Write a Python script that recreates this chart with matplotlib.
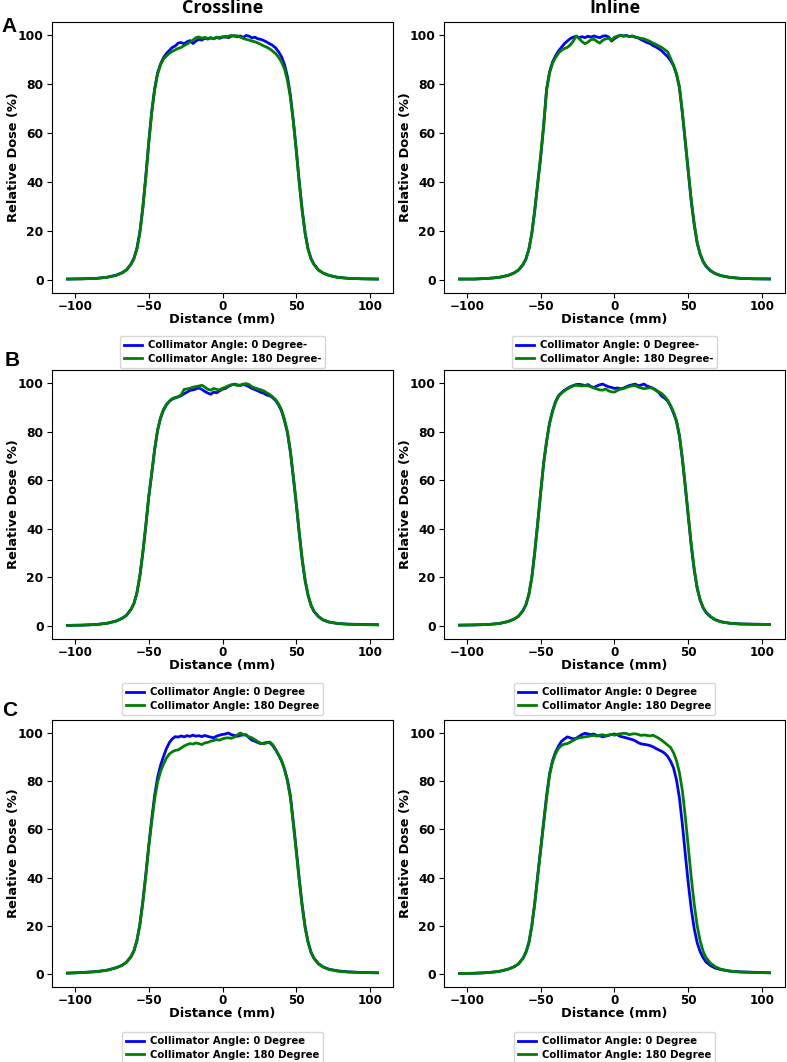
from matplotlib import pyplot as plt

# sample positions (mm), shared by all profiles
dist = [-105, -95, -85, -78, -72, -68, -65, -62, -60, -58, -56, -54, -52, -50, -48, -46, -44, -42, -40,
        -38, -36, -34, -32, -30, -28, -26, -24, -22, -20, -18, -16, -14, -12, -10, -8, -6, -4, -2,
        0, 2, 4, 6, 8, 10, 12, 14, 16, 18, 20, 22, 24, 26, 28, 30, 32, 34, 36, 38,
        40, 42, 44, 46, 48, 50, 52, 54, 56, 58, 60, 62, 65, 68, 72, 78, 85, 95, 105]

# Row A - crossline
a_cross_0 = [0.3, 0.4, 0.6, 1.1, 1.9, 2.9, 4.1, 6.4, 8.8, 12.8, 19.5, 29.5, 42, 56, 68.5, 78, 84.5, 88.2, 90.8,
             92.5, 93.8, 95.0, 95.6, 96.8, 97.0, 96.5, 97.3, 97.8, 96.6, 97.6, 98.3, 98.0, 98.8, 98.4, 98.9, 98.5, 99.1, 98.7,
             99.2, 99.5, 99.0, 99.6, 99.8, 99.3, 99.7, 99.1, 99.9, 99.6, 98.9, 99.2, 98.5, 98.3, 97.8, 97.2, 96.5, 95.8, 94.8, 93.2,
             91.2, 88.0, 83.0, 75.5, 65, 53, 40, 28.5, 19, 12.5, 8.6, 6.3, 4.0, 2.8, 1.8, 1.0, 0.6, 0.4, 0.3]
a_cross_180 = [0.3, 0.4, 0.6, 1.0, 1.8, 2.8, 4.0, 6.3, 8.6, 12.5, 19, 29, 41.5, 55.5, 68, 77.5, 84, 87.8, 90.2,
               91.5, 92.6, 93.4, 94.0, 94.6, 95.0, 95.8, 96.4, 97.2, 98.0, 99.0, 99.3, 98.8, 99.1, 98.7, 99.0, 98.6, 99.2, 99.0,
               99.4, 99.1, 99.6, 99.9, 99.6, 99.8, 99.2, 98.7, 98.3, 98.0, 97.6, 97.3, 96.8, 96.2, 95.6, 95.1, 94.4, 93.5, 92.5, 91.0,
               89.0, 86.2, 81.5, 74.5, 64.5, 52.5, 39.5, 28, 18.8, 12.3, 8.5, 6.2, 4.0, 2.8, 1.8, 1.0, 0.6, 0.4, 0.3]
# Row A - inline
a_in_0 = [0.3, 0.3, 0.6, 1.0, 1.8, 2.8, 4.0, 6.2, 8.5, 12.5, 19, 28.5, 39.5, 50, 63, 78, 85, 89, 91.5,
          93.5, 95.0, 96.5, 97.6, 98.6, 99.2, 99.5, 99.0, 99.4, 99.0, 99.6, 99.2, 99.7, 99.3, 99.0, 99.6, 99.8, 99.3, 97.6,
          98.6, 99.4, 100.0, 99.7, 99.9, 99.5, 99.6, 99.2, 98.9, 98.2, 97.6, 97.0, 96.6, 95.8, 95.2, 94.5, 93.6, 92.4, 91.2, 89.6,
          87.5, 84, 78.5, 68, 56, 44, 32, 22.5, 15, 10.5, 7.5, 5.5, 3.7, 2.6, 1.7, 1.0, 0.6, 0.4, 0.3]
a_in_180 = [0.3, 0.3, 0.6, 1.0, 1.8, 2.8, 4.0, 6.2, 8.5, 12.5, 19, 28.5, 39.5, 51, 63, 77.5, 84.5, 88.5, 90.8,
            92.6, 93.8, 94.5, 95.0, 96.0, 97.5, 99.7, 98.6, 97.4, 96.5, 97.2, 98.1, 98.4, 97.5, 96.8, 97.9, 98.5, 98.8, 98.0,
            99.2, 99.6, 100.0, 99.5, 99.8, 99.4, 99.7, 99.3, 99.0, 98.7, 98.5, 98.0, 97.5, 96.8, 96.3, 95.6, 95.0, 94.1, 93.2, 90.5,
            87.8, 84.3, 78.8, 68.5, 56.5, 44.5, 32.5, 23, 15.3, 10.6, 7.6, 5.6, 3.8, 2.6, 1.7, 1.0, 0.6, 0.4, 0.4]

# Row B - crossline
b_cross_0 = [0.2, 0.3, 0.6, 1.1, 2.0, 3.1, 4.4, 6.8, 9.2, 13.5, 20.5, 30, 41, 53, 62.5, 72.5, 80.5, 85.5, 88.8,
             91.0, 92.5, 93.4, 93.9, 94.3, 94.8, 95.6, 96.3, 97.0, 97.2, 97.6, 98.0, 97.4, 96.6, 95.9, 95.4, 96.3, 96.0, 96.8,
             97.5, 97.8, 98.6, 99.2, 99.6, 99.3, 99.0, 99.4, 99.1, 98.5, 97.8, 97.3, 96.8, 96.2, 95.8, 95.1, 94.8, 94.0, 92.8, 91.0,
             88.5, 84.5, 79.5, 71.5, 61, 50, 38, 27, 18.5, 12.5, 8.4, 5.9, 3.8, 2.5, 1.6, 1.0, 0.7, 0.6, 0.5]
b_cross_180 = [0.2, 0.3, 0.6, 1.1, 2.0, 3.1, 4.4, 6.8, 9.2, 13.5, 20.5, 30, 41, 53, 62.5, 72.5, 80.5, 85.8, 89.2,
               91.2, 92.6, 93.6, 94.1, 94.4, 95.2, 97.4, 97.6, 97.9, 98.3, 98.6, 98.8, 99.1, 98.4, 97.5, 97.1, 97.8, 97.4, 97.2,
               97.9, 98.3, 98.9, 99.3, 99.5, 99.0, 99.2, 99.6, 99.8, 99.4, 98.5, 98.0, 97.6, 97.2, 96.8, 96.0, 95.3, 94.3, 93.2, 91.4,
               89, 85, 80, 72, 61.5, 50.5, 38.5, 27.5, 18.8, 12.6, 8.5, 6.0, 3.9, 2.5, 1.6, 1.0, 0.7, 0.5, 0.4]
# Row B - inline
b_in_0 = [0.3, 0.4, 0.6, 1.0, 1.8, 2.8, 4.0, 6.3, 8.7, 13, 20, 30.5, 42.5, 55, 67, 76, 83.5, 88.5, 92.3,
          94.8, 96.0, 97.0, 97.8, 98.5, 99.0, 99.4, 99.5, 99.3, 99.0, 99.4, 98.6, 98.2, 98.8, 99.3, 99.6, 99.0, 98.5, 98.2,
          97.8, 98.0, 97.7, 97.9, 98.5, 99.0, 99.3, 99.6, 98.9, 99.2, 99.6, 98.8, 98.4, 97.9, 97.2, 96.1, 94.6, 93.8, 92.6, 90.5,
          87.6, 84.2, 78, 68.5, 57, 45, 33, 23, 15.5, 10.6, 7.5, 5.6, 3.8, 2.6, 1.7, 1.1, 0.8, 0.7, 0.6]
b_in_180 = [0.3, 0.4, 0.6, 1.0, 1.8, 2.8, 4.0, 6.3, 8.7, 13, 20, 30.5, 42.5, 55, 67, 76, 83.5, 88.3, 92.0,
            94.5, 95.8, 96.8, 97.6, 98.3, 98.8, 99.1, 99.0, 98.8, 99.0, 98.9, 98.5, 98.0, 97.6, 97.2, 97.1, 97.6, 96.8, 96.4,
            96.3, 97.0, 97.5, 97.7, 98.2, 98.6, 98.9, 99.0, 98.4, 98.0, 97.7, 97.9, 98.1, 97.8, 97.0, 96.4, 95.7, 94.5, 93.0, 90.8,
            88, 84.5, 78.5, 69, 57.5, 45.5, 33.5, 23.5, 15.8, 10.8, 7.6, 5.6, 3.8, 2.6, 1.7, 1.1, 0.8, 0.6, 0.6]

# Row C - crossline
c_cross_0 = [0.4, 0.6, 1.0, 1.6, 2.6, 3.6, 4.9, 7.2, 9.6, 13.8, 20.5, 30, 41, 53, 64, 74, 81.5, 86.5, 90.2,
             93.5, 96.0, 97.6, 98.5, 98.3, 98.8, 98.4, 98.9, 98.6, 99.1, 98.7, 98.9, 98.5, 99.0, 98.6, 98.3, 98.0, 98.7, 99.1,
             99.4, 99.6, 100.0, 99.3, 99.0, 98.6, 99.0, 99.2, 99.3, 98.0, 97.0, 96.6, 96.0, 95.6, 95.8, 96.1, 96.0, 94.8, 93.0, 90.8,
             88.5, 85, 80.5, 74, 63, 51.5, 39.5, 28.5, 19.5, 13.2, 9.0, 6.5, 4.3, 3.0, 2.0, 1.3, 0.9, 0.6, 0.5]
c_cross_180 = [0.3, 0.6, 1.0, 1.6, 2.6, 3.6, 4.9, 7.2, 9.6, 13.8, 20.3, 29.5, 40.5, 52.5, 63, 72.5, 79.5, 84, 87.0,
               89.6, 91.3, 92.2, 92.8, 93.0, 93.8, 94.6, 95.2, 95.6, 95.4, 95.9, 95.6, 95.2, 95.9, 96.1, 96.6, 96.9, 97.3, 97.0,
               97.6, 97.9, 98.0, 97.8, 98.3, 99.2, 100.0, 99.4, 99.0, 98.4, 98.0, 97.2, 96.4, 95.8, 95.5, 95.9, 96.3, 95.2, 93.2, 91.0,
               88.5, 85, 80, 73, 62, 50.5, 38.5, 27.8, 19, 13, 8.9, 6.4, 4.2, 2.9, 1.9, 1.2, 0.8, 0.6, 0.5]
# Row C - inline
c_in_0 = [0.2, 0.3, 0.6, 1.1, 2.0, 3.0, 4.2, 6.5, 9.0, 13, 20, 29.5, 41, 52, 63, 74, 83, 88.5, 92,
          94.5, 96.5, 97.5, 98.4, 98.0, 97.6, 97.8, 98.6, 99.4, 99.9, 99.6, 99.3, 99.6, 99.0, 98.8, 98.4, 98.7, 99.0, 99.4,
          99.6, 99.2, 98.6, 98.3, 98.0, 97.6, 97.3, 96.8, 96.0, 95.5, 95.3, 95.1, 94.8, 94.3, 93.6, 93.0, 92.4, 91.6, 90.3, 88.3,
          85.5, 80.5, 73, 62, 49.5, 37.5, 27, 18.8, 13, 9.3, 6.8, 5.0, 3.5, 2.5, 1.8, 1.2, 0.9, 0.7, 0.5]
c_in_180 = [0.2, 0.3, 0.6, 1.1, 2.0, 3.0, 4.2, 6.5, 9.0, 13, 20, 29.5, 40.5, 51.5, 62.5, 73, 82.5, 88, 91.3,
            93.6, 94.8, 95.4, 95.6, 96.2, 96.9, 97.6, 98.0, 98.2, 98.4, 98.6, 98.8, 99.0, 98.7, 99.1, 99.3, 98.9, 99.2, 99.4,
            99.1, 99.5, 99.7, 99.9, 99.8, 99.3, 99.6, 99.7, 99.4, 99.0, 99.2, 99.0, 98.8, 99.1, 98.5, 97.8, 97.0, 96.0, 95.0, 94.0,
            91.8, 88.5, 83.5, 76, 65, 52.5, 40, 29, 20, 13.8, 9.5, 6.8, 4.5, 3.1, 2.0, 1.2, 0.8, 0.6, 0.5]

panels = [[(a_cross_0, a_cross_180), (a_in_0, a_in_180)],
          [(b_cross_0, b_cross_180), (b_in_0, b_in_180)],
          [(c_cross_0, c_cross_180), (c_in_0, c_in_180)]]
legend_labels = [['Collimator Angle: 0 Degree-', 'Collimator Angle: 180 Degree-'],
                 ['Collimator Angle: 0 Degree', 'Collimator Angle: 180 Degree'],
                 ['Collimator Angle: 0 Degree', 'Collimator Angle: 180 Degree']]
col_titles = ['Crossline', 'Inline']
row_letters = ['A', 'B', 'C']

ytkSize = 8.8
xtkSize = 8.6
lbSize = 9.4
lgSize = 7.3

W, H = 787, 1062
fig = plt.figure(figsize=(W / 100, H / 100), dpi=100)

# axes boxes in pixels: (left, right), (top, bottom)
cols_px = [(52, 393), (444, 785)]
rows_px = [(22, 293), (370, 639), (720, 987)]
leg_y = [-0.159, -0.164, -0.169]

for r in range(3):
    for c in range(2):
        x0, x1 = cols_px[c]
        y0, y1 = rows_px[r]
        ax = fig.add_axes([x0 / W, 1 - y1 / H, (x1 - x0) / W, (y1 - y0) / H])
        d0, d180 = panels[r][c]
        ax.plot(dist, d0, color='blue', linewidth=2.0, label=legend_labels[r][0])
        ax.plot(dist, d180, color='green', linewidth=2.0, label=legend_labels[r][1])
        ax.set_xlim(-115.5, 115.5)
        ax.set_ylim(-5.4, 105.4)
        ax.set_xticks([-100, -50, 0, 50, 100])
        ax.set_yticks([0, 20, 40, 60, 80, 100])
        for lab in ax.get_xticklabels():
            lab.set_fontweight('bold')
            lab.set_fontsize(xtkSize)
        for lab in ax.get_yticklabels():
            lab.set_fontweight('bold')
            lab.set_fontsize(ytkSize)
        ax.tick_params(axis='x', pad=1.5)
        ax.tick_params(axis='y', pad=2.5)
        ax.set_xlabel('Distance (mm)', fontsize=lbSize, fontweight='bold', labelpad=0)
        ax.set_ylabel('Relative Dose (%)', fontsize=lbSize, fontweight='bold')
        ax.yaxis.set_label_coords(-0.095, 0.5)
        ax.legend(loc='upper center', bbox_to_anchor=(0.5, leg_y[r]), borderaxespad=0,
                  prop={'weight': 'bold', 'size': lgSize}, borderpad=0.4, labelspacing=0.35,
                  handlelength=1.8, handletextpad=0.6)

for c in range(2):
    xc = (cols_px[c][0] + cols_px[c][1]) / 2 / W
    fig.text(xc, 1 - 8 / H, col_titles[c], ha='center', va='center', fontsize=13,
             fontweight='bold', family='Open Sans')

letter_pos = [(9, 26), (12, 360), (10, 711)]
for (px, py), letter in zip(letter_pos, row_letters):
    fig.text(px / W, 1 - py / H, letter, ha='center', va='center', fontsize=15,
             fontweight='bold', family='Liberation Sans')

plt.savefig('out.png', dpi=100)
